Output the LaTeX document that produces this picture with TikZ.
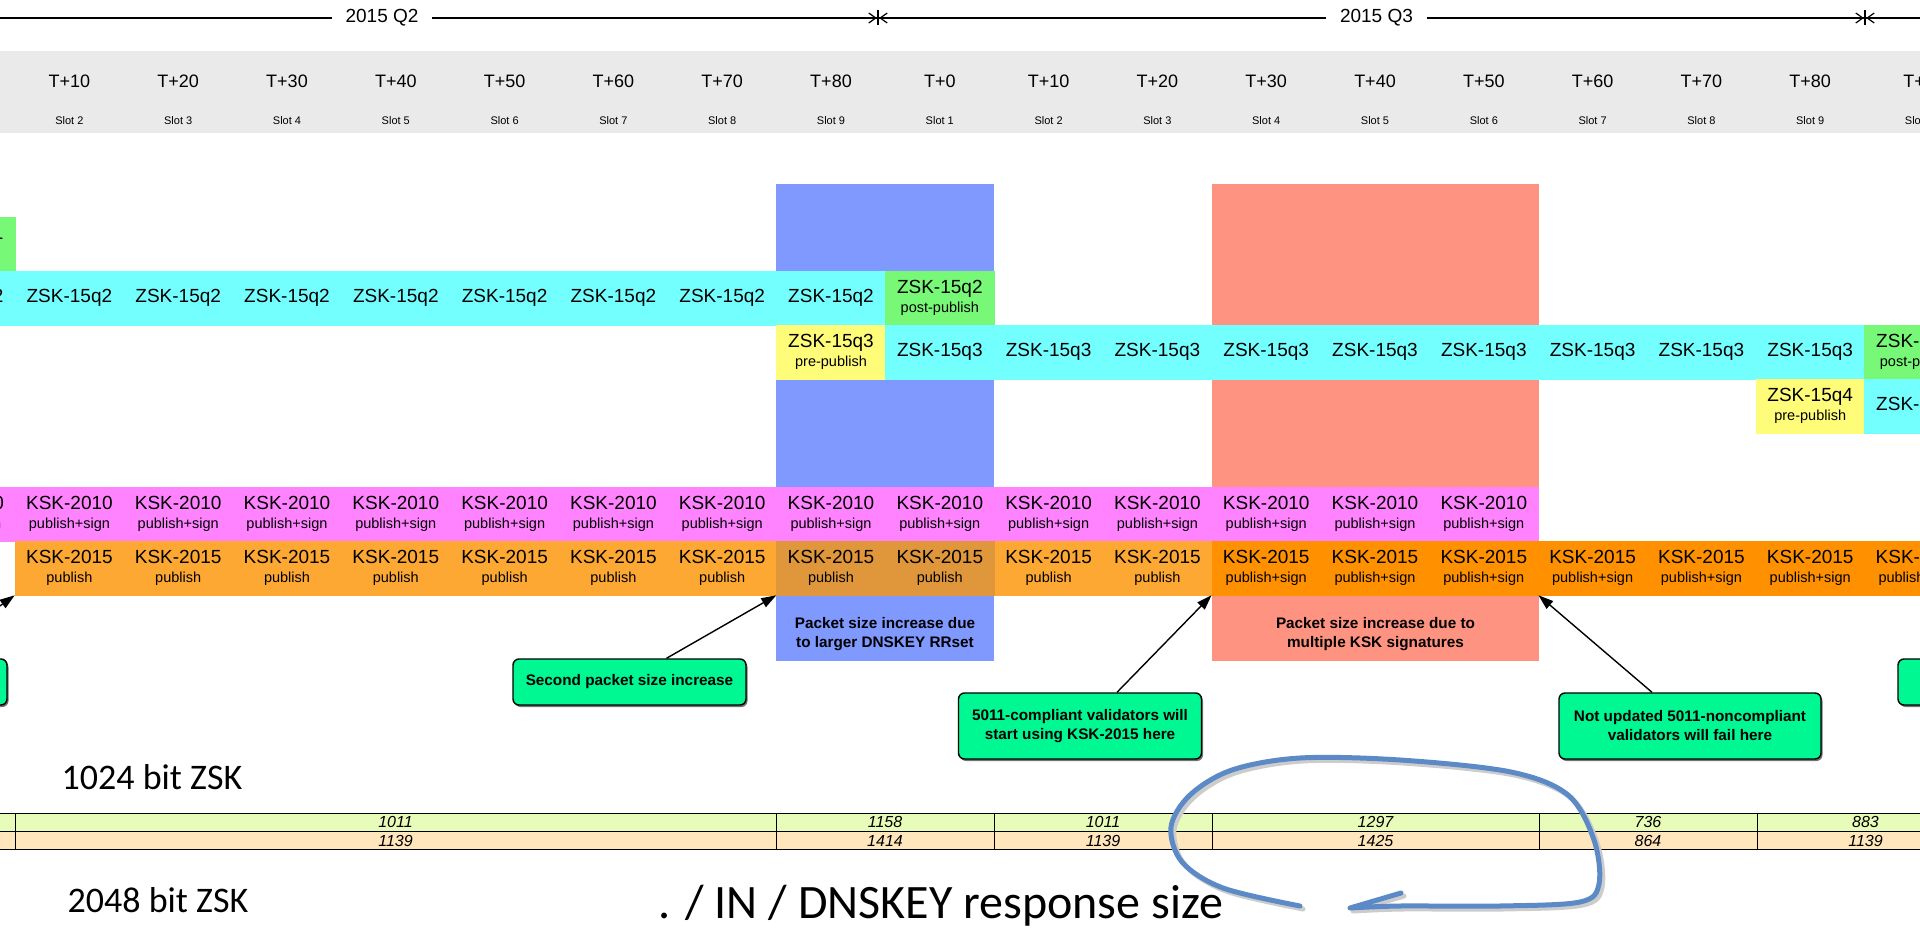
\documentclass[tikz,border=0pt]{standalone}
\usepackage{fontspec}
\setmainfont{Liberation Sans}
\newfontfamily\calfont{Carlito}
\usetikzlibrary{positioning,calc,arrows.meta,shadows}
\definecolor{hdrgray}{HTML}{EAEAEA}
\definecolor{zskcyan}{HTML}{74FFFF}
\definecolor{postgreen}{HTML}{77F977}
\definecolor{preyellow}{HTML}{FFFC7A}
\definecolor{kskpink}{HTML}{FF83FF}
\definecolor{pubor}{HTML}{FEA834}
\definecolor{pubordk}{HTML}{E0963A}
\definecolor{signor}{HTML}{FF9100}
\definecolor{bandblue}{HTML}{8099FF}
\definecolor{bandred}{HTML}{FF9382}
\definecolor{notegreen}{HTML}{00F893}
\definecolor{tabgreen}{HTML}{E8FCB9}
\definecolor{taborange}{HTML}{FFE6BC}
\definecolor{penblue}{HTML}{5B8AC6}
\newcommand\duo[2]{#1\\[-2pt]{\fontsize{14.5}{15}\selectfont #2}}

\begin{document}
\begin{tikzpicture}[x=1pt, y=-1pt,
  cell/.style={fill=#1, draw=#1, line width=.6pt, minimum width=108.8pt, minimum height=54pt, inner sep=0pt, align=center, font=\fontsize{19}{21}\selectfont},
  bandtxt/.style={align=center, font=\bfseries\fontsize{15.3}{19}\selectfont},
  note/.style={draw, line width=1.4pt, rounded corners=6pt, fill=notegreen, align=center, inner sep=0pt, font=\bfseries\fontsize{15.3}{19}\selectfont, drop shadow={shadow xshift=1.5pt, shadow yshift=-2pt, fill=black!55, opacity=1}},
  pointer/.style={line width=1.4pt, -{Triangle[length=15pt,width=10pt]}},
  qline/.style={line width=1.2pt, {Bar[width=15pt]Straight Barb[length=7pt,width=10pt]}-{Straight Barb[length=7pt,width=10pt]Bar[width=15pt]}},
  qlab/.style={fill=white, inner xsep=14pt, font=\fontsize{19}{21}\selectfont},
  tlab/.style={font=\fontsize{18}{20}\selectfont},
  slab/.style={font=\fontsize{11}{12}\selectfont},
  tab/.style={draw, line width=1pt, fill=#1, inner sep=0pt, minimum height=18.4pt, font=\itshape\fontsize{16}{17}\selectfont},
  big/.style={font=\calfont\fontsize{#1}{#1}\selectfont},
  pen/.style={line width=5pt, line cap=round, line join=round}]
\path[use as bounding box, clip] (0,0) rectangle (1920,928);

\fill[hdrgray] (0,51) rectangle (1920,133);
\foreach \k in {0,...,17} {
  \pgfmathtruncatemacro\i{mod(\k+10,9)}
  \pgfmathtruncatemacro\t{10*\i}
  \pgfmathtruncatemacro\s{\i+1}
  \node[tlab] (t\k) at (69.4+108.8*\k,81) {T+\t};
  \node[slab] (s\k) at (69.4+108.8*\k,121) {Slot \s};
}
\coordinate (q2a) at (-110,18);
\coordinate (q3a) at (878,18);
\coordinate (q4a) at (1865,18);
\coordinate (q5a) at (2845,18);
\draw[qline] (q2a) -- node[qlab, pos=.498] (q2) {2015 Q2} (q3a);
\draw[qline] (q3a) -- node[qlab, pos=.505] (q3) {2015 Q3} (q4a);
\draw[qline] (q4a) -- (q5a);

\node[fill=bandblue, minimum width=218pt, minimum height=477pt, inner sep=0pt] (blueband) at (885,422.5) {};
\node[fill=bandred, minimum width=327pt, minimum height=477pt, inner sep=0pt] (redband) at (1375.5,422.5) {};
\node[bandtxt] (bluenote) at (885,634) {Packet size increase due\\to larger DNSKEY RRset};
\node[bandtxt] (rednote) at (1375.5,634) {Packet size increase due to\\multiple KSK signatures};

\node[cell=postgreen] (q1post) at (69.4-108.8,244) {\duo{ZSK-15q1}{post-publish}};
\foreach \k in {-1,...,7} \node[cell=zskcyan] (q2z\k) at (69.4+108.8*\k,298) {ZSK-15q2};
\node[cell=postgreen] (q2post) at (69.4+108.8*8,298) {\duo{ZSK-15q2}{post-publish}};
\node[cell=preyellow] (q3pre) at (69.4+108.8*7,352) {\duo{ZSK-15q3}{pre-publish}};
\foreach \k in {8,...,16} \node[cell=zskcyan] (q3z\k) at (69.4+108.8*\k,352) {ZSK-15q3};
\node[cell=postgreen] (q3post) at (69.4+108.8*17,352) {\duo{ZSK-15q3}{post-publish}};
\node[cell=preyellow] (q4pre) at (69.4+108.8*16,406) {\duo{ZSK-15q4}{pre-publish}};
\node[cell=zskcyan] (q4z17) at (69.4+108.8*17,406) {ZSK-15q4};

\foreach \k in {-1,...,13} \node[cell=kskpink] (old\k) at (69.4+108.8*\k,514) {\duo{KSK-2010}{publish+sign}};
\foreach \k in {0,...,6,9,10} \node[cell=pubor] (new\k) at (69.4+108.8*\k,568) {\duo{KSK-2015}{publish}};
\foreach \k in {7,8} \node[cell=pubordk] (new\k) at (69.4+108.8*\k,568) {\duo{KSK-2015}{publish}};
\foreach \k in {11,...,17} \node[cell=signor] (new\k) at (69.4+108.8*\k,568) {\duo{KSK-2015}{publish+sign}};

\node[note, minimum width=234pt, minimum height=46pt] (first) at (-110,682) {};
\node[note, minimum width=233pt, minimum height=46pt] (second) at (629.5,682) {Second packet size increase};
\node[note, minimum width=243pt, minimum height=66pt] (starts) at (1080,726) {5011-compliant validators will\\start using KSK-2015 here};
\node[note, minimum width=262pt, minimum height=66pt] (fails) at (1690,726) {Not updated 5011-noncompliant\\validators will fail here};
\node[note, minimum width=234pt, minimum height=46pt] (last) at (2015,682) {};
\draw[pointer] ($(first.north)+(37,0)$) -- (new0.south west);
\draw[pointer] ($(second.north)+(37,0)$) -- (new7.south west);
\draw[pointer] ($(starts.north)+(37,0)$) -- (new11.south west);
\draw[pointer] ($(fails.north)+(-38,0)$) -- (new13.south east);

\node[big=36] (zsk1024) at (152,777) {1024 bit ZSK};
\node[big=36] (zsk2048) at (158,900) {2048 bit ZSK};
\node[big=48] (title) at (941,906) {. / IN / DNSKEY response size};
\foreach \a/\b/\u/\v [count=\n] in {-94/15//,15/776/1011/1139,776/994/1158/1414,994/1212/1011/1139,1212/1539/1297/1425,1539/1757/736/864,1757/1974/883/1139} {
  \node[tab=tabgreen, minimum width={(\b-\a)*1pt}] (sa\n) at ({(\a+\b)/2},822.2) {\u};
  \node[tab=taborange, minimum width={(\b-\a)*1pt}] (sb\n) at ({(\a+\b)/2},840.6) {\v};
}
\foreach \d/\c in {3/black!20,0/penblue}
  \draw[pen, \c, shift={(\d pt,-\d pt)}] plot[smooth, tension=.55] coordinates {(1300,906) (1223,888) (1182,862) (1171,827) (1190,795) (1232,770) (1300,758) (1400,760) (1511,772) (1568,795) (1594,840) (1599,884) (1580,902) (1500,906) (1400,906) (1350,908)} -- (1401,893);
\end{tikzpicture}
\end{document}
